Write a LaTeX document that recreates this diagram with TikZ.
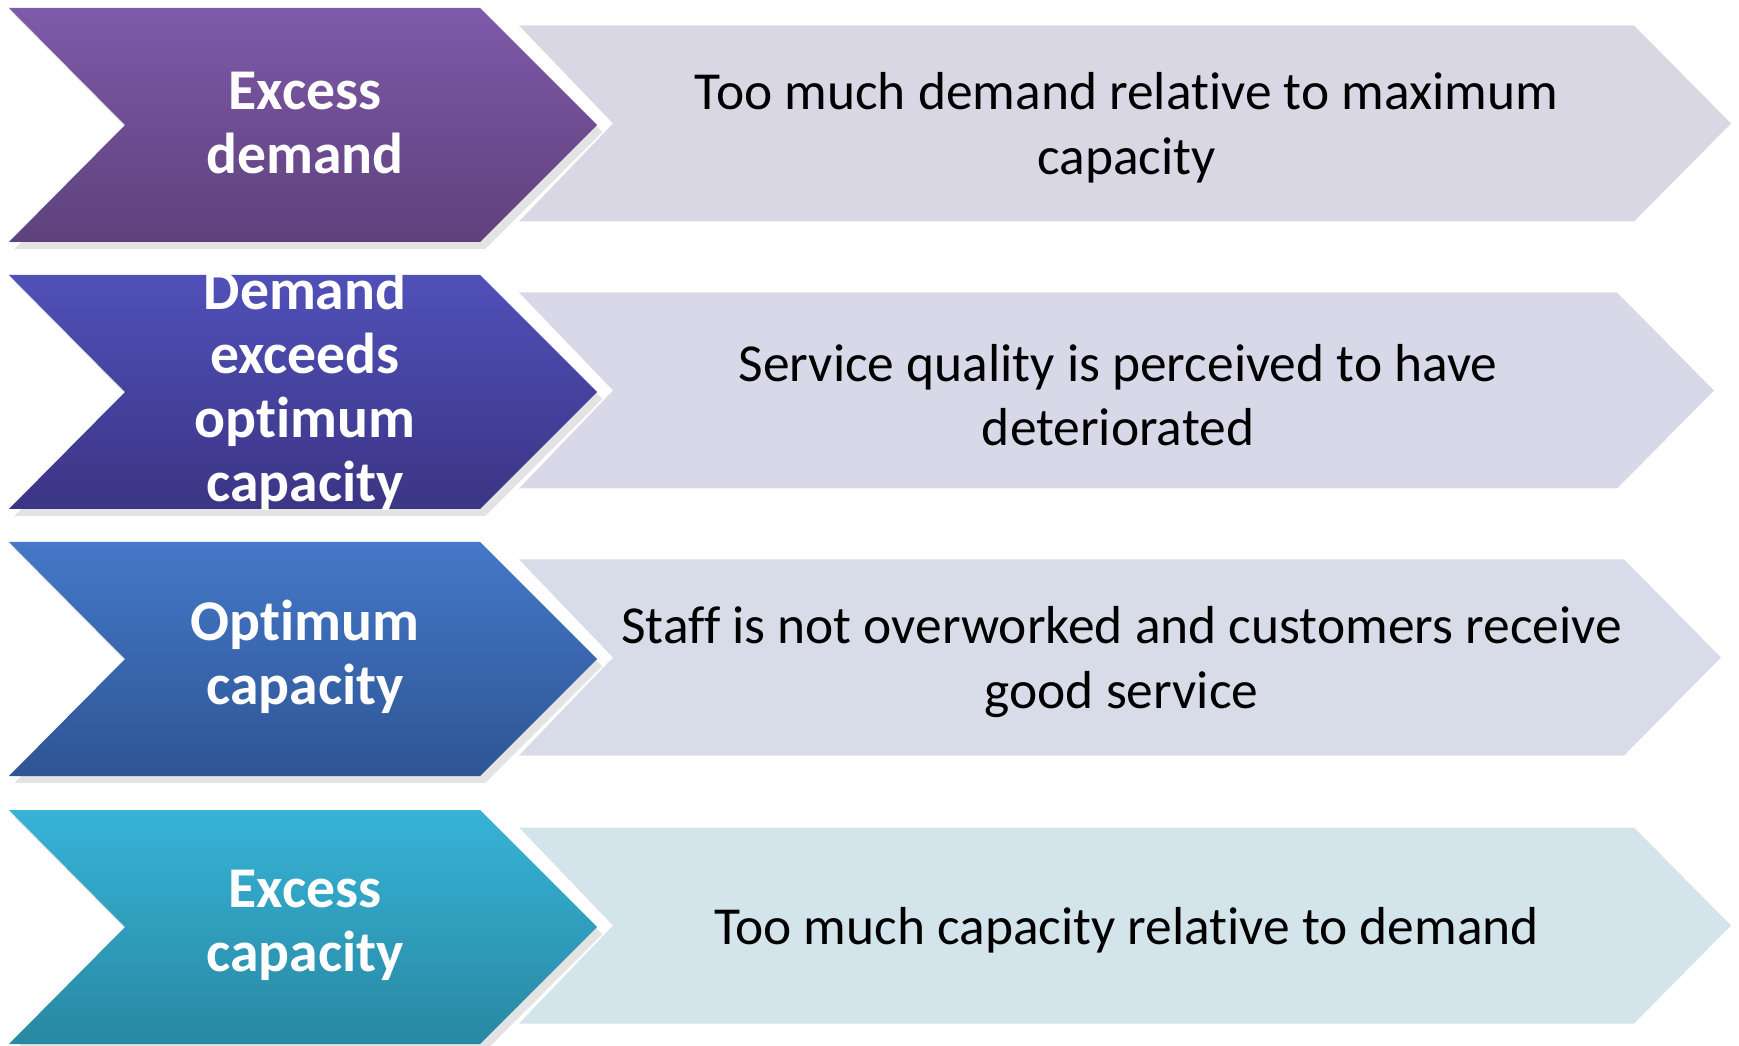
\documentclass[tikz,border=0pt]{standalone}
\usepackage{fontspec}
\setmainfont{Carlito}[Ligatures=NoCommon]
\usetikzlibrary{shadows}
\definecolor{exdtop}{HTML}{7E5AA9}
\definecolor{exdbot}{HTML}{5E417C}
\definecolor{exdlite}{HTML}{DAD7E5}
\definecolor{deotop}{HTML}{5050B9}
\definecolor{deobot}{HTML}{3B3584}
\definecolor{deolite}{HTML}{D8D8E8}
\definecolor{optop}{HTML}{4478C8}
\definecolor{opbot}{HTML}{2E5594}
\definecolor{oplite}{HTML}{D7DCE8}
\definecolor{excap}{HTML}{37B3D7}
\definecolor{excbot}{HTML}{2888A2}
\definecolor{exclite}{HTML}{D3E4EB}
\tikzset{%
    stage/.style={drop shadow={shadow xshift=1.5pt,shadow yshift=-2pt,opacity=.22}},
    stagetext/.style={text=white,align=center,inner sep=0pt,font=\fontsize{16.4}{18.2}\selectfont\bfseries},
    desctext/.style={text=black,align=center,inner sep=0pt,font=\fontsize{15.2}{18.4}\selectfont},
}

\begin{document}
\begin{tikzpicture}[x=0.01cm,y=-0.01cm]
    \useasboundingbox (0,0) rectangle (1739,1046);

    \foreach \i/\rowy/\ctop/\cbot/\clite/\xr/\lab/\desc in {%
        1/8/exdtop/exdbot/exdlite/1634/{Excess\\demand}/{Too much demand relative to maximum\\capacity},
        2/275/deotop/deobot/deolite/1617/{Demand\\exceeds\\optimum\\capacity}/{Service quality is perceived to have\\deteriorated},
        3/542/optop/opbot/oplite/1624/{Optimum\\capacity}/{Staff is not overworked and customers receive\\good service},
        4/810/excap/excbot/exclite/1634/{Excess\\capacity}/{Too much capacity relative to demand}}{%
        % description chevron
        \fill[\clite] (519,\rowy+17.5) -- (\xr,\rowy+17.5) -- ++(97,98) -- ++(-97,98) -- (519,\rowy+213.5) -- ++(94,-98) -- cycle;
        % stage chevron
        \path[stage,top color=\ctop,bottom color=\cbot] (9,\rowy) -- ++(471,0) -- ++(117,117) -- ++(-117,117) -- ++(-471,0) -- ++(116,-117) -- cycle;
        % text
        \node[stagetext] (lab\i) at (305,\rowy+115) {\lab};
        \node[desctext] (desc\i) at ({(613+\xr)/2+3},\rowy+120) {\desc};
    }

\end{tikzpicture}
\end{document}
